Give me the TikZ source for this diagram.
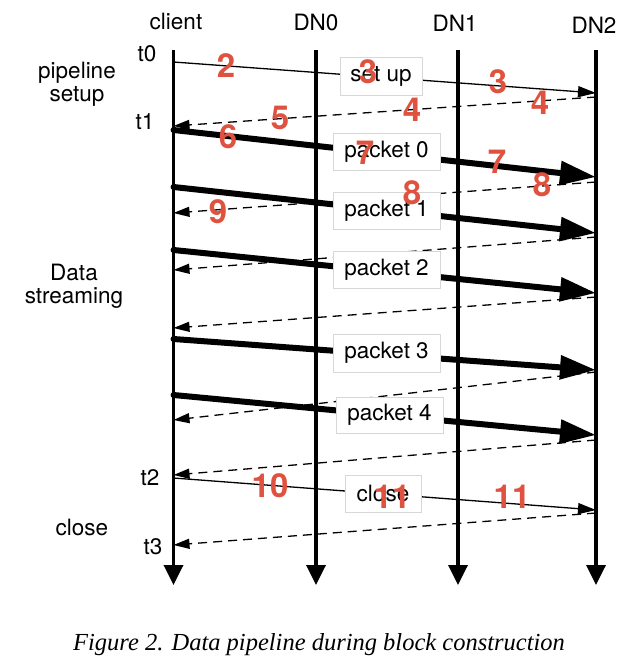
\documentclass[tikz,border=0pt]{standalone}
\usepackage{fontspec}
\usetikzlibrary{arrows.meta}
\newfontfamily\hvfont{TeX Gyre Heros}
\newfontfamily\capfont{Liberation Serif}
\definecolor{numred}{RGB}{224,82,64}
\definecolor{boxgray}{RGB}{215,215,215}
\begin{document}
\begin{tikzpicture}[x=1pt,y=-1pt,
  lifeline/.style={line width=3.5pt,-{Triangle[length=20pt,width=19pt]}},
  ctrlmsg/.style={line width=1.3pt,-{Triangle[length=18pt,width=11pt]}},
  ackmsg/.style={line width=1.3pt,dash pattern=on 9pt off 6pt,-{Triangle[length=16pt,width=10pt]}},
  datamsg/.style={line width=6pt,line cap=round,-{Triangle[length=36pt,width=23pt]}},
  lbl/.style={font=\hvfont\fontsize{22.5}{23}\selectfont,inner sep=0pt},
  sidelbl/.style={font=\hvfont\fontsize{22.5}{22.5}\selectfont,align=center,inner sep=0pt},
  msgbox/.style={draw=boxgray,line width=0.6pt,fill=white,font=\hvfont\fontsize{22.5}{23}\selectfont,inner sep=0pt,minimum height=37pt},
  num/.style={text=numred,font=\hvfont\bfseries\fontsize{33}{33}\selectfont,inner sep=0pt}
]
\path[use as bounding box,fill=white] (0,0) rectangle (640,664);

% lifelines
\coordinate (cT) at (173.5,50); \coordinate (cB) at (173.5,585);
\coordinate (aT) at (316,50);   \coordinate (aB) at (316,585);
\coordinate (bT) at (458,50);   \coordinate (bB) at (458,585);
\coordinate (dT) at (596,50);   \coordinate (dB) at (596,585);
\draw[lifeline] (cT) -- (cB);
\draw[lifeline] (aT) -- (aB);
\draw[lifeline] (bT) -- (bB);
\draw[lifeline] (dT) -- (dB);

% lifeline headers
\node[lbl] (hc) at (176,21) {client};
\node[lbl] (ha) at (316,22) {DN0};
\node[lbl] (hb) at (455,23) {DN1};
\node[lbl] (hd) at (594,25) {DN2};

% time marks and phases
\node[lbl] (t0) at (147,54) {t0};
\node[lbl] (t1) at (145,122) {t1};
\node[lbl] (t2) at (150,478) {t2};
\node[lbl] (t3) at (153,547) {t3};
\node[sidelbl] (ph1) at (77,84) {pipeline\\setup};
\node[sidelbl] (ph2) at (74,286) {Data\\streaming};
\node[lbl] (ph3) at (82,527) {close};

% message end points
\coordinate (m1s) at (173.5,62);  \coordinate (m1e) at (596,93);
\coordinate (a1s) at (596,97);    \coordinate (a1e) at (173.5,126);
\coordinate (p0s) at (173.5,130); \coordinate (p0e) at (596,177);
\coordinate (a2s) at (596,182);   \coordinate (a2e) at (173.5,213);
\coordinate (p1s) at (173.5,187); \coordinate (p1e) at (596,233);
\coordinate (a3s) at (596,237);   \coordinate (a3e) at (173.5,270);
\coordinate (p2s) at (173.5,250); \coordinate (p2e) at (596,293);
\coordinate (a4s) at (596,297);   \coordinate (a4e) at (173.5,328);
\coordinate (p3s) at (173.5,339); \coordinate (p3e) at (596,370);
\coordinate (a5s) at (596,372);   \coordinate (a5e) at (173.5,420);
\coordinate (p4s) at (173.5,395); \coordinate (p4e) at (596,435);
\coordinate (a6s) at (596,440);   \coordinate (a6e) at (173.5,475);
\coordinate (m2s) at (173.5,478); \coordinate (m2e) at (596,510);
\coordinate (a7s) at (596,513);   \coordinate (a7e) at (173.5,545);

\draw[ctrlmsg] (m1s) -- (m1e);
\draw[ackmsg] (a1s) -- (a1e);
\draw[datamsg] (p0s) -- (p0e);
\draw[ackmsg] (a2s) -- (a2e);
\draw[datamsg] (p1s) -- (p1e);
\draw[ackmsg] (a3s) -- (a3e);
\draw[datamsg] (p2s) -- (p2e);
\draw[ackmsg] (a4s) -- (a4e);
\draw[datamsg] (p3s) -- (p3e);
\draw[ackmsg] (a5s) -- (a5e);
\draw[datamsg] (p4s) -- (p4e);
\draw[ackmsg] (a6s) -- (a6e);
\draw[ctrlmsg] (m2s) -- (m2e);
\draw[ackmsg] (a7s) -- (a7e);

% message labels
\node[msgbox,minimum width=82pt,minimum height=38pt] (bsetup) at (381,76) {set up};
\node[msgbox,minimum width=107pt] (bp0) at (386.5,151.5) {packet 0};
\node[msgbox,minimum width=107pt] (bp1) at (386.5,210.5) {packet 1};
\node[msgbox,minimum width=107pt] (bp2) at (386.5,270) {packet 2};
\node[msgbox,minimum width=107pt,minimum height=38pt] (bp3) at (386.5,353) {packet 3};
\node[msgbox,minimum width=107pt,minimum height=36pt] (bp4) at (389.5,415) {packet 4};
\node[msgbox,minimum width=76pt] (bclose) at (383,493.5) {close};

% step numbers
\node[num] (n2)  at (226,66)  {2};
\node[num] (n3a) at (368,72)  {3};
\node[num] (n3b) at (498,82)  {3};
\node[num] (n4a) at (412,110) {4};
\node[num] (n4b) at (540,103) {4};
\node[num] (n5)  at (280,118) {5};
\node[num] (n6)  at (228,137) {6};
\node[num] (n7a) at (365,153) {7};
\node[num] (n7b) at (497,162) {7};
\node[num] (n8a) at (412,193) {8};
\node[num] (n8b) at (542,185) {8};
\node[num] (n9)  at (218,212) {9};
\node[num] (n10) at (270,486) {10};
\node[num] (n11a) at (392,497) {11};
\node[num] (n11b) at (512,497) {11};

% caption
\node[font=\capfont\itshape\fontsize{24.5}{26}\selectfont,inner sep=0pt] (cap) at (319,645) {Figure 2. Data pipeline during block construction};
\end{tikzpicture}
\end{document}
